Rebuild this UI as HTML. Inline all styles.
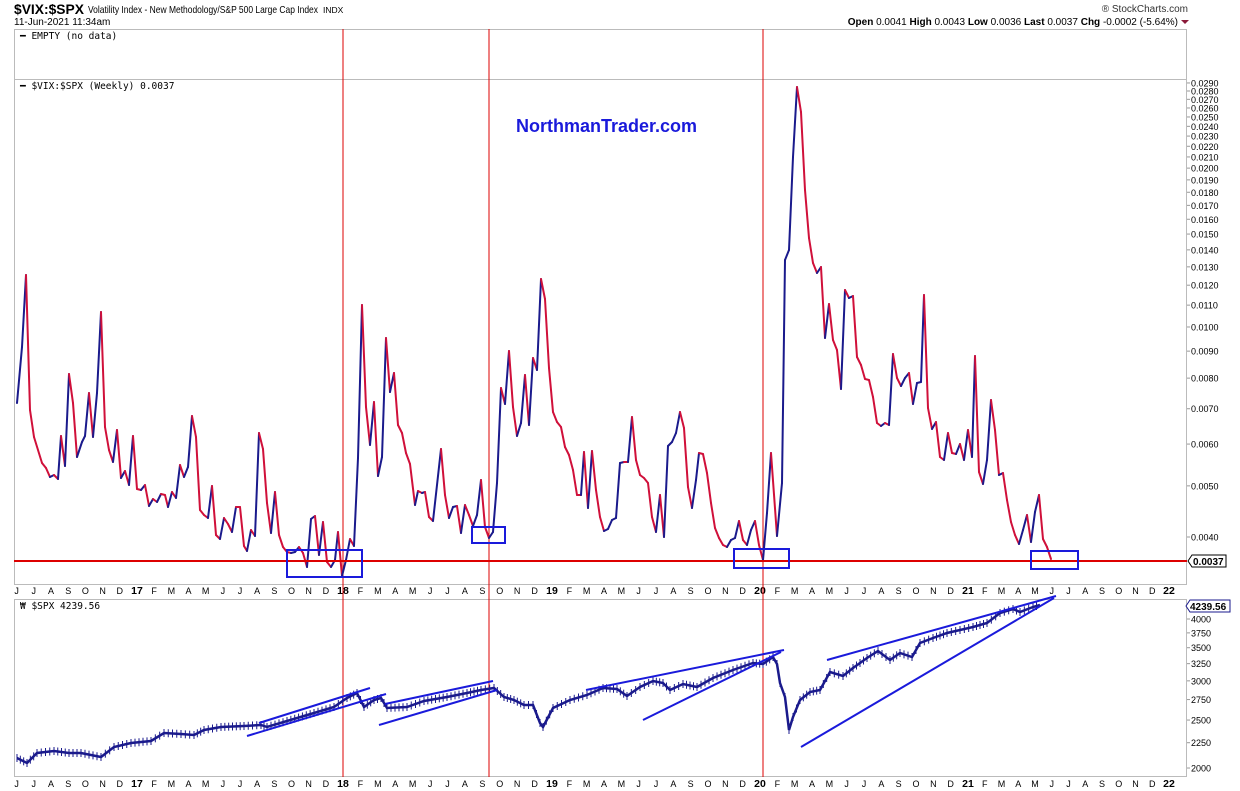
<!DOCTYPE html>
<html><head><meta charset="utf-8"><style>
body{margin:0;background:#fff;width:1240px;height:791px;overflow:hidden;font-family:"Liberation Sans",sans-serif}
svg{display:block}
</style></head><body>
<svg id="s" width="1240" height="791" xmlns="http://www.w3.org/2000/svg" font-family="Liberation Sans, sans-serif">
<text x="14" y="14" font-size="14" font-weight="bold" fill="#000" textLength="70" lengthAdjust="spacingAndGlyphs">$VIX:$SPX</text>
<text x="88" y="13" font-size="10.5" fill="#000" textLength="230" lengthAdjust="spacingAndGlyphs">Volatility Index - New Methodology/S&amp;P 500 Large Cap Index</text>
<text x="323" y="13" font-size="8.5" fill="#000">INDX</text>
<text x="14" y="25" font-size="10" fill="#000">11-Jun-2021 11:34am</text>
<text x="1188" y="12" font-size="10" fill="#333" text-anchor="end">® StockCharts.com</text>
<text x="1178" y="25" font-size="10" fill="#000" text-anchor="end"><tspan font-weight="bold">Open</tspan> 0.0041  <tspan font-weight="bold">High</tspan> 0.0043  <tspan font-weight="bold">Low</tspan> 0.0036  <tspan font-weight="bold">Last</tspan> 0.0037  <tspan font-weight="bold">Chg</tspan> -0.0002 (-5.64%)</text>
<polygon points="1181,20 1189,20 1185,24" fill="#8b1a3a"/>
<rect x="14.5" y="29.5" width="1172" height="50" fill="none" stroke="#bbb"/>
<rect x="14.5" y="79.5" width="1172" height="505" fill="none" stroke="#bbb"/>
<rect x="14.5" y="599.5" width="1172" height="177" fill="none" stroke="#bbb"/>
<text x="20" y="39" font-size="9.5" font-family="DejaVu Sans Mono, monospace" fill="#000">━ EMPTY (no data)</text>
<text x="20" y="89" font-size="9.5" font-family="DejaVu Sans Mono, monospace" fill="#000">━ $VIX:$SPX (Weekly) 0.0037</text>
<text x="20" y="609" font-size="9.5" font-family="DejaVu Sans Mono, monospace" fill="#000">₩ $SPX 4239.56</text>
<text x="516" y="132" font-size="18" font-weight="bold" fill="#1a1adb">NorthmanTrader.com</text>
<g id="g"></g>
</svg>
<script>
const s=document.getElementById('g');const NS='http://www.w3.org/2000/svg';
function el(t,a,txt){const e=document.createElementNS(NS,t);for(const k in a)e.setAttribute(k,a[k]);if(txt!=null)e.textContent=txt;s.appendChild(e);return e;}
const Y=v=>537-229.2*Math.log(v/0.004);
const vl=[];for(let v=290;v>=100;v-=10)vl.push(v/10000);for(let v=90;v>=40;v-=10)vl.push(v/10000);
vl.forEach(v=>{const y=Y(v);el('line',{x1:1187,y1:y,x2:1190,y2:y,stroke:'#999'});el('text',{x:1191,y:y+3.5,'font-size':9,fill:'#000'},v.toFixed(4));});
const SY=v=>619+215*Math.log(4000/v);
for(let v=2000;v<=4000;v+=250){const y=SY(v);el('line',{x1:1187,y1:y,x2:1190,y2:y,stroke:'#999'});el('text',{x:1191,y:y+3.5,'font-size':9,fill:'#000'},v);}
const yrs=[[137,'17'],[343,'18'],[552,'19'],[760,'20'],[968,'21'],[1169,'22']];
const M=['J','F','M','A','M','J','J','A','S','O','N','D'];
function lab(y){
 const pre=['J','J','A','S','O','N','D'];pre.forEach((m,i)=>el('text',{x:137-(7-i)*17.2,y:y,'font-size':9,fill:'#000','text-anchor':'middle'},m));
 for(let k=0;k<yrs.length;k++){const [x0,t]=yrs[k];el('text',{x:x0,y:y,'font-size':10.5,'font-weight':'bold',fill:'#000','text-anchor':'middle'},t);
  if(k<yrs.length-1){const x1=yrs[k+1][0];for(let m=1;m<12;m++)el('text',{x:x0+(x1-x0)*m/12,y:y,'font-size':9,fill:'#000','text-anchor':'middle'},M[m]);}}
}
lab(594);lab(787);
[343,489,763].forEach(x=>el('line',{x1:x,y1:29,x2:x,y2:777,stroke:'#d00',"stroke-width":1}));
const P=[[17,403],[22,347],[26,275],[30,410],[34,437],[42,463],[46,468],[50,477],[54,475],[58,479],[61,436],[65,466],[69,374],[73,403],[77,457],[82,442],[85,436],[89,393],[93,437],[97,393],[101,312],[105,427],[109,450],[113,462],[117,430],[121,478],[125,471],[129,485],[133,436],[137,489],[141,490],[145,485],[149,506],[153,499],[157,502],[161,494],[165,495],[168,507],[172,492],[176,498],[180,465],[184,477],[188,467],[192,416],[196,437],[200,510],[204,515],[208,518],[212,486],[216,535],[220,539],[224,518],[228,524],[232,532],[236,507],[240,507],[244,546],[247,551],[251,530],[255,536],[259,433],[263,449],[267,503],[271,533],[275,492],[279,535],[283,547],[287,552],[291,553],[295,552],[299,547],[303,553],[307,567],[311,519],[315,516],[319,555],[323,522],[327,562],[331,567],[335,560],[338,532],[342,576],[346,560],[350,539],[354,546],[358,458],[362,305],[366,407],[370,445],[374,402],[378,476],[382,457],[386,338],[390,392],[394,373],[398,425],[402,433],[406,453],[410,464],[415,505],[418,491],[422,493],[425,492],[429,517],[433,521],[441,449],[445,495],[449,518],[453,507],[457,506],[461,533],[465,505],[469,515],[473,526],[477,515],[481,480],[485,527],[489,538],[493,532],[497,483],[501,388],[505,404],[509,351],[513,407],[517,436],[521,423],[525,375],[529,425],[533,358],[537,370],[541,279],[545,299],[549,368],[553,412],[557,422],[561,427],[565,447],[569,455],[573,470],[577,495],[581,495],[584,452],[588,508],[592,451],[596,490],[600,517],[604,531],[608,529],[612,520],[616,518],[620,463],[624,462],[628,462],[632,417],[636,460],[640,475],[644,478],[648,483],[652,517],[656,532],[660,495],[664,537],[668,446],[672,442],[676,433],[680,412],[684,428],[688,487],[692,508],[696,480],[699,453],[703,454],[707,473],[711,503],[715,528],[719,538],[723,545],[727,547],[731,540],[735,538],[739,521],[743,540],[747,545],[751,530],[755,521],[759,545],[763,560],[767,513],[771,453],[777,536],[782,483],[785,260],[789,250],[793,157],[797,87],[801,112],[805,190],[809,238],[813,263],[817,273],[821,267],[825,338],[829,304],[833,340],[837,350],[841,389],[845,290],[849,298],[853,296],[857,357],[861,365],[865,379],[869,380],[873,397],[877,423],[881,426],[885,423],[889,425],[893,354],[897,378],[901,386],[905,378],[909,373],[913,404],[917,383],[921,382],[924,295],[928,408],[932,429],[936,422],[940,457],[944,460],[948,433],[952,453],[956,454],[960,444],[964,460],[968,430],[972,457],[975,356],[979,472],[983,484],[987,460],[991,400],[995,430],[999,475],[1003,473],[1007,500],[1011,522],[1015,535],[1019,544],[1023,530],[1027,515],[1031,542],[1035,512],[1039,495],[1043,539],[1047,547],[1051,559]];
for(let i=1;i<P.length;i++){const a=P[i-1],b=P[i];el('line',{x1:a[0],y1:a[1],x2:b[0],y2:b[1],stroke:b[1]<a[1]?'#1a1a8c':'#d0103a','stroke-width':2,'stroke-linecap':'round'});}
el('line',{x1:14,y1:561,x2:1187,y2:561,stroke:'#d00','stroke-width':2});
el('polygon',{points:'1188,561 1192,555 1226,555 1226,567 1192,567',fill:'#fff',stroke:'#000'});
el('text',{x:1193,y:565,'font-size':10,'font-weight':'bold',fill:'#000'},'0.0037');
[[287,550,75,27],[472,527,33,16],[734,549,55,19],[1031,551,47,18]].forEach(r=>el('rect',{x:r[0],y:r[1],width:r[2],height:r[3],fill:'none',stroke:'#1a1adb','stroke-width':2}));
const Q=[[17,758],[27,763],[37,753],[54,751],[69,753],[81,753],[101,757],[114,747],[131,743],[151,741],[164,733],[181,734],[194,735],[204,730],[221,727],[244,726],[261,725],[267,727],[287,721],[314,713],[334,707],[347,698],[357,693],[364,707],[374,700],[381,698],[387,708],[407,707],[424,701],[447,697],[467,693],[481,690],[494,688],[504,697],[514,700],[524,705],[533,705],[540,723],[543,727],[553,708],[570,700],[587,695],[603,688],[617,689],[627,696],[640,687],[653,681],[663,683],[670,690],[683,684],[697,687],[713,678],[733,670],[753,663],[763,664],[773,657],[777,664],[780,683],[785,697],[789,730],[793,717],[800,700],[810,692],[820,690],[830,672],[843,676],[853,668],[867,658],[878,651],[890,660],[900,653],[912,657],[920,643],[933,638],[947,633],[960,630],[973,627],[987,623],[1000,613],[1013,609],[1020,612],[1033,607],[1040,605]];
let d='M'+Q.map(p=>p.join(',')).join(' L');
el('path',{d:d,fill:'none',stroke:'#1a1a8c','stroke-width':2.5});
for(let i=1;i<Q.length;i++){const a=Q[i-1],b=Q[i];const n=Math.max(1,Math.round((b[0]-a[0])/4));for(let k=0;k<n;k++){const x=a[0]+(b[0]-a[0])*k/n,y=a[1]+(b[1]-a[1])*k/n;el('line',{x1:x,y1:y-4,x2:x,y2:y+4,stroke:'#1a1a8c','stroke-width':1});}}
[[259,723,370,688],[247,736,386,694],[385,704,493,681],[379,725,497,690],[586,690,784,650],[643,720,781,652],[827,660,1056,596],[801,747,1054,598]].forEach(l=>el('line',{x1:l[0],y1:l[1],x2:l[2],y2:l[3],stroke:'#1a1adb','stroke-width':2}));
el('polygon',{points:'1186,606 1190,600 1230,600 1230,612 1190,612',fill:'#fff',stroke:'#1a1a8c'});
el('text',{x:1190,y:610,'font-size':10,'font-weight':'bold',fill:'#000'},'4239.56');
</script>
</body></html>
